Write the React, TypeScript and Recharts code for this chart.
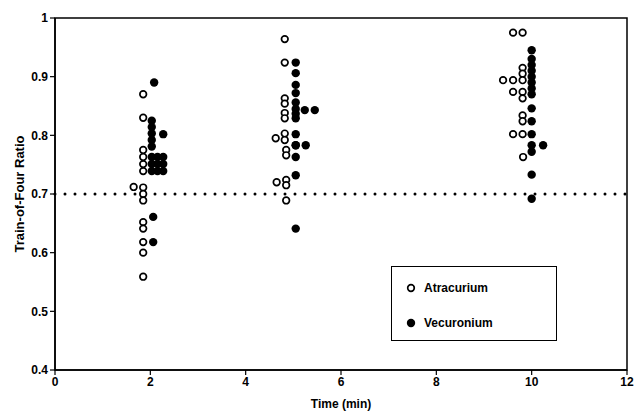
import React from "react";
import {
  ScatterChart,
  Scatter,
  XAxis,
  YAxis,
  ReferenceLine,
  ReferenceArea,
} from "recharts";

// Atracurium (open circles)
const atracuriumTime = [
  1.85, 1.85, 1.85, 1.85, 1.85, 1.85, 1.65, 1.85, 1.85, 1.85, 1.85, 1.85, 1.85, 1.85, 1.85,
  4.82, 4.82, 4.82, 4.82, 4.82, 4.82, 4.82, 4.82, 4.63, 4.85, 4.85, 4.65, 4.85, 4.85, 4.85,
  9.61, 9.81, 9.81, 9.81, 9.4, 9.61, 9.81, 9.61, 9.81, 9.81, 9.81, 9.81, 9.61, 9.81, 9.82,
];
const atracuriumRatio = [
  0.87, 0.83, 0.775, 0.763, 0.751, 0.739, 0.712, 0.711, 0.7, 0.689, 0.652, 0.641, 0.618, 0.6, 0.559,
  0.964, 0.924, 0.863, 0.854, 0.838, 0.829, 0.803, 0.792, 0.795, 0.775, 0.766, 0.72, 0.724, 0.715, 0.689,
  0.975, 0.975, 0.915, 0.905, 0.894, 0.894, 0.894, 0.874, 0.874, 0.863, 0.834, 0.824, 0.802, 0.802, 0.763,
];

// Vecuronium (filled circles)
const vecuroniumTime = [
  2.08, 2.03, 2.03, 2.03, 2.03, 2.03, 2.27, 2.03, 2.15, 2.27, 2.03, 2.15, 2.27, 2.03, 2.15, 2.27, 2.06, 2.06,
  5.05, 5.05, 5.05, 5.05, 5.05, 5.05, 5.05, 5.05, 5.24, 5.45, 5.05, 5.05, 5.05, 5.26, 5.05, 5.05, 5.05,
  10.0, 10.0, 10.0, 10.0, 10.0, 10.0, 10.0, 10.0, 10.0, 10.0, 10.0, 10.0, 10.24, 10.0, 10.0, 10.0,
];
const vecuroniumRatio = [
  0.89, 0.825, 0.814, 0.803, 0.792, 0.781, 0.802, 0.763, 0.763, 0.763, 0.751, 0.751, 0.751, 0.739, 0.739, 0.739, 0.661, 0.618,
  0.924, 0.906, 0.886, 0.872, 0.856, 0.845, 0.837, 0.829, 0.843, 0.843, 0.802, 0.783, 0.783, 0.783, 0.763, 0.732, 0.641,
  0.945, 0.93, 0.92, 0.91, 0.9, 0.89, 0.88, 0.87, 0.846, 0.824, 0.802, 0.783, 0.783, 0.772, 0.733, 0.692,
];

const xTicks = [0, 2, 4, 6, 8, 10, 12];
const yTicks = [0.4, 0.5, 0.6, 0.7, 0.8, 0.9, 1];
const thresholdRatio = 0.7;
const xTitle = "Time (min)";
const yTitle = "Train-of-Four Ratio";

const atracuriumData = atracuriumTime.map((x, i) => ({ x, y: atracuriumRatio[i] }));
const vecuroniumData = vecuroniumTime.map((x, i) => ({ x, y: vecuroniumRatio[i] }));

const FONT = "'Liberation Sans', Arial, Helvetica, sans-serif";

const OpenDot = (props: any) => (
  <circle cx={props.cx} cy={props.cy} r={3.3} fill="#fff" stroke="#000" strokeWidth={1.7} />
);
const FilledDot = (props: any) => (
  <circle cx={props.cx} cy={props.cy} r={4.2} fill="#000" stroke="none" />
);

const YTitle = (props: any) => {
  const vb = props.viewBox || { x: 0, y: 18, width: 55, height: 352 };
  const cx = 19;
  const cy = vb.y + vb.height / 2;
  return (
    <text
      x={cx}
      y={cy}
      transform={`rotate(-90, ${cx}, ${cy})`}
      textAnchor="middle"
      dominantBaseline="central"
      fill="#000"
      fontSize={13}
      fontWeight={700}
      fontFamily={FONT}
    >
      {yTitle}
    </text>
  );
};

export default function App() {
  return (
    <div style={{ position: "absolute", left: 0, top: 0, width: 634, height: 411, background: "#fff" }}>
      <ScatterChart
        width={634}
        height={411}
        margin={{ top: 18, right: 7, bottom: 0, left: 0 }}
      >
        <XAxis
          type="number"
          dataKey="x"
          domain={[0, 12]}
          ticks={xTicks}
          allowDataOverflow
          height={41}
          tickSize={5}
          axisLine={{ stroke: "#000", strokeWidth: 1.5 }}
          tickLine={{ stroke: "#000", strokeWidth: 1.2 }}
          tick={{ fill: "#000", fontSize: 12, fontFamily: FONT, fontWeight: 700 }}
          label={{
            value: xTitle,
            position: "insideBottom",
            offset: 3,
            fill: "#000",
            style: { fill: "#000", fontSize: 12, fontFamily: FONT, fontWeight: 700 },
          }}
        />
        <YAxis
          type="number"
          dataKey="y"
          domain={[0.4, 1]}
          ticks={yTicks}
          allowDataOverflow
          width={55}
          tickSize={5}
          axisLine={{ stroke: "#000", strokeWidth: 1.5 }}
          tickLine={{ stroke: "#000", strokeWidth: 1.2 }}
          tick={{ fill: "#000", fontSize: 12, fontFamily: FONT, fontWeight: 700 }}
          label={{ content: <YTitle /> }}
        />
        <ReferenceArea x1={0} x2={12} y1={0.4} y2={1} fill="none" stroke="#000" strokeWidth={1.5} fillOpacity={0} />
        <ReferenceLine
          y={thresholdRatio}
          stroke="#000"
          strokeWidth={3}
          strokeDasharray="0 10"
          strokeLinecap="round"
        />
        <Scatter data={vecuroniumData} shape={FilledDot} isAnimationActive={false} />
        <Scatter data={atracuriumData} shape={OpenDot} isAnimationActive={false} />
      </ScatterChart>
      <div
        style={{
          position: "absolute",
          left: 391,
          top: 266,
          width: 166,
          height: 75,
          border: "1px solid #000",
          boxSizing: "border-box",
          fontFamily: FONT,
          fontSize: 12,
          fontWeight: 700,
          color: "#000",
        }}
      >
        <div style={{ position: "absolute", left: 14, top: 14, display: "flex", alignItems: "center" }}>
          <svg width={10} height={10} style={{ marginRight: 8 }}>
            <circle cx={5} cy={5} r={3.3} fill="#fff" stroke="#000" strokeWidth={1.7} />
          </svg>
          <span>Atracurium</span>
        </div>
        <div style={{ position: "absolute", left: 14, top: 49, display: "flex", alignItems: "center" }}>
          <svg width={10} height={10} style={{ marginRight: 8 }}>
            <circle cx={5} cy={5} r={4.2} fill="#000" />
          </svg>
          <span>Vecuronium</span>
        </div>
      </div>
    </div>
  );
}
